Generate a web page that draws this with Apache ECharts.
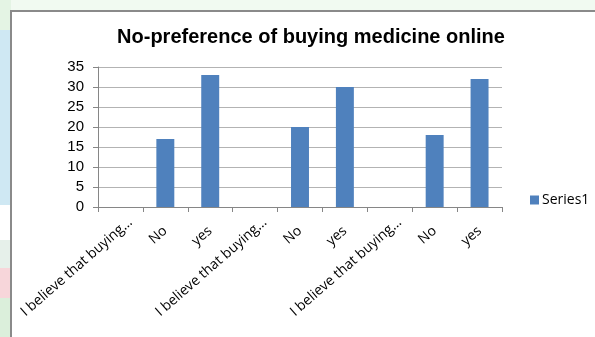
<!DOCTYPE html>
<html><head><meta charset="utf-8">
<script src="https://cdn.jsdelivr.net/npm/echarts@6/dist/echarts.min.js"></script>
<style>html,body{margin:0;padding:0;background:#fff}#c{width:595px;height:337px}</style>
</head><body><div id="c"></div>
<script>
const categories = ["I believe that buying…", "No", "yes", "I believe that buying…", "No", "yes", "I believe that buying…", "No", "yes"];
const series1 = [null, 17, 33, null, 20, 30, null, 18, 32];
const yTicks = [0, 5, 10, 15, 20, 25, 30, 35];
const titleText = "No-preference of buying medicine online";
const seriesName = "Series1";

const chart = echarts.init(document.getElementById('c'), null, {renderer: 'canvas'});
chart.setOption({
  animation: false,
  backgroundColor: '#ffffff',
  graphic: [
    {type: 'rect', shape: {x: 0, y: 30, width: 11, height: 175}, style: {fill: '#cfe8f3'}, z: -10},
    {type: 'rect', shape: {x: 0, y: 0, width: 595, height: 10}, style: {fill: '#f1faf1'}, z: -10},
    {type: 'rect', shape: {x: 0, y: 0, width: 11, height: 30}, style: {fill: '#e4f4e4'}, z: -10},
    {type: 'rect', shape: {x: 0, y: 240, width: 11, height: 30}, style: {fill: '#e6f0ea'}, z: -10},
    {type: 'rect', shape: {x: 0, y: 268, width: 11, height: 30}, style: {fill: '#f7d6da'}, z: -10},
    {type: 'rect', shape: {x: 0, y: 298, width: 11, height: 39}, style: {fill: '#dbefdb'}, z: -10},
    {type: 'rect', shape: {x: 11, y: 11, width: 600, height: 340}, style: {fill: '#ffffff'}, z: -9},
    {type: 'line', shape: {x1: 11, y1: 10, x2: 11, y2: 337}, style: {stroke: '#8a8a8a', lineWidth: 2}, z: 10},
    {type: 'line', shape: {x1: 10, y1: 11, x2: 595, y2: 11}, style: {stroke: '#8a8a8a', lineWidth: 2}, z: 10}
  ],
  title: {
    text: titleText, left: 306, top: 22, textAlign: 'center',
    textStyle: {fontFamily: 'Liberation Sans', fontWeight: 'bold', fontSize: 20, color: '#000'}
  },
  legend: {
    data: [seriesName], left: 525, top: 188, orient: 'vertical',
    itemWidth: 9, itemHeight: 9, icon: 'rect', itemGap: 4,
    textStyle: {fontFamily: 'Open Sans', fontSize: 14, color: '#000', padding: [0,0,0,-2]}
  },
  grid: {left: 98, right: 93, top: 67, bottom: 130, containLabel: false},
  xAxis: {
    type: 'category', data: categories,
    axisLine: {lineStyle: {color: '#868686'}},
    axisTick: {show: true, length: 5, lineStyle: {color: '#868686'}},
    axisLabel: {rotate: 41, interval: 0, fontFamily: 'Open Sans', fontSize: 14, color: '#000', margin: 22,
      formatter: v => v.length > 3 ? '{l|' + v + '}' : v,
      rich: {l: {fontFamily: 'Open Sans', fontSize: 14, color: '#000', padding: [0, -13, 0, 0]}}
    }
  },
  yAxis: {
    type: 'value', min: 0, max: 35, interval: 5,
    axisLine: {show: true, lineStyle: {color: '#868686'}},
    axisTick: {show: true, length: 5, lineStyle: {color: '#868686'}},
    splitLine: {lineStyle: {color: '#b3b3b3'}},
    axisLabel: {fontFamily: 'Liberation Sans', fontSize: 15, color: '#000', margin: 14,
      formatter: v => yTicks.includes(v) ? String(v) : ''}
  },
  series: [{
    name: seriesName, type: 'bar', data: series1, barWidth: '40%',
    itemStyle: {color: '#4f81bd'}
  }]
});
</script></body></html>
